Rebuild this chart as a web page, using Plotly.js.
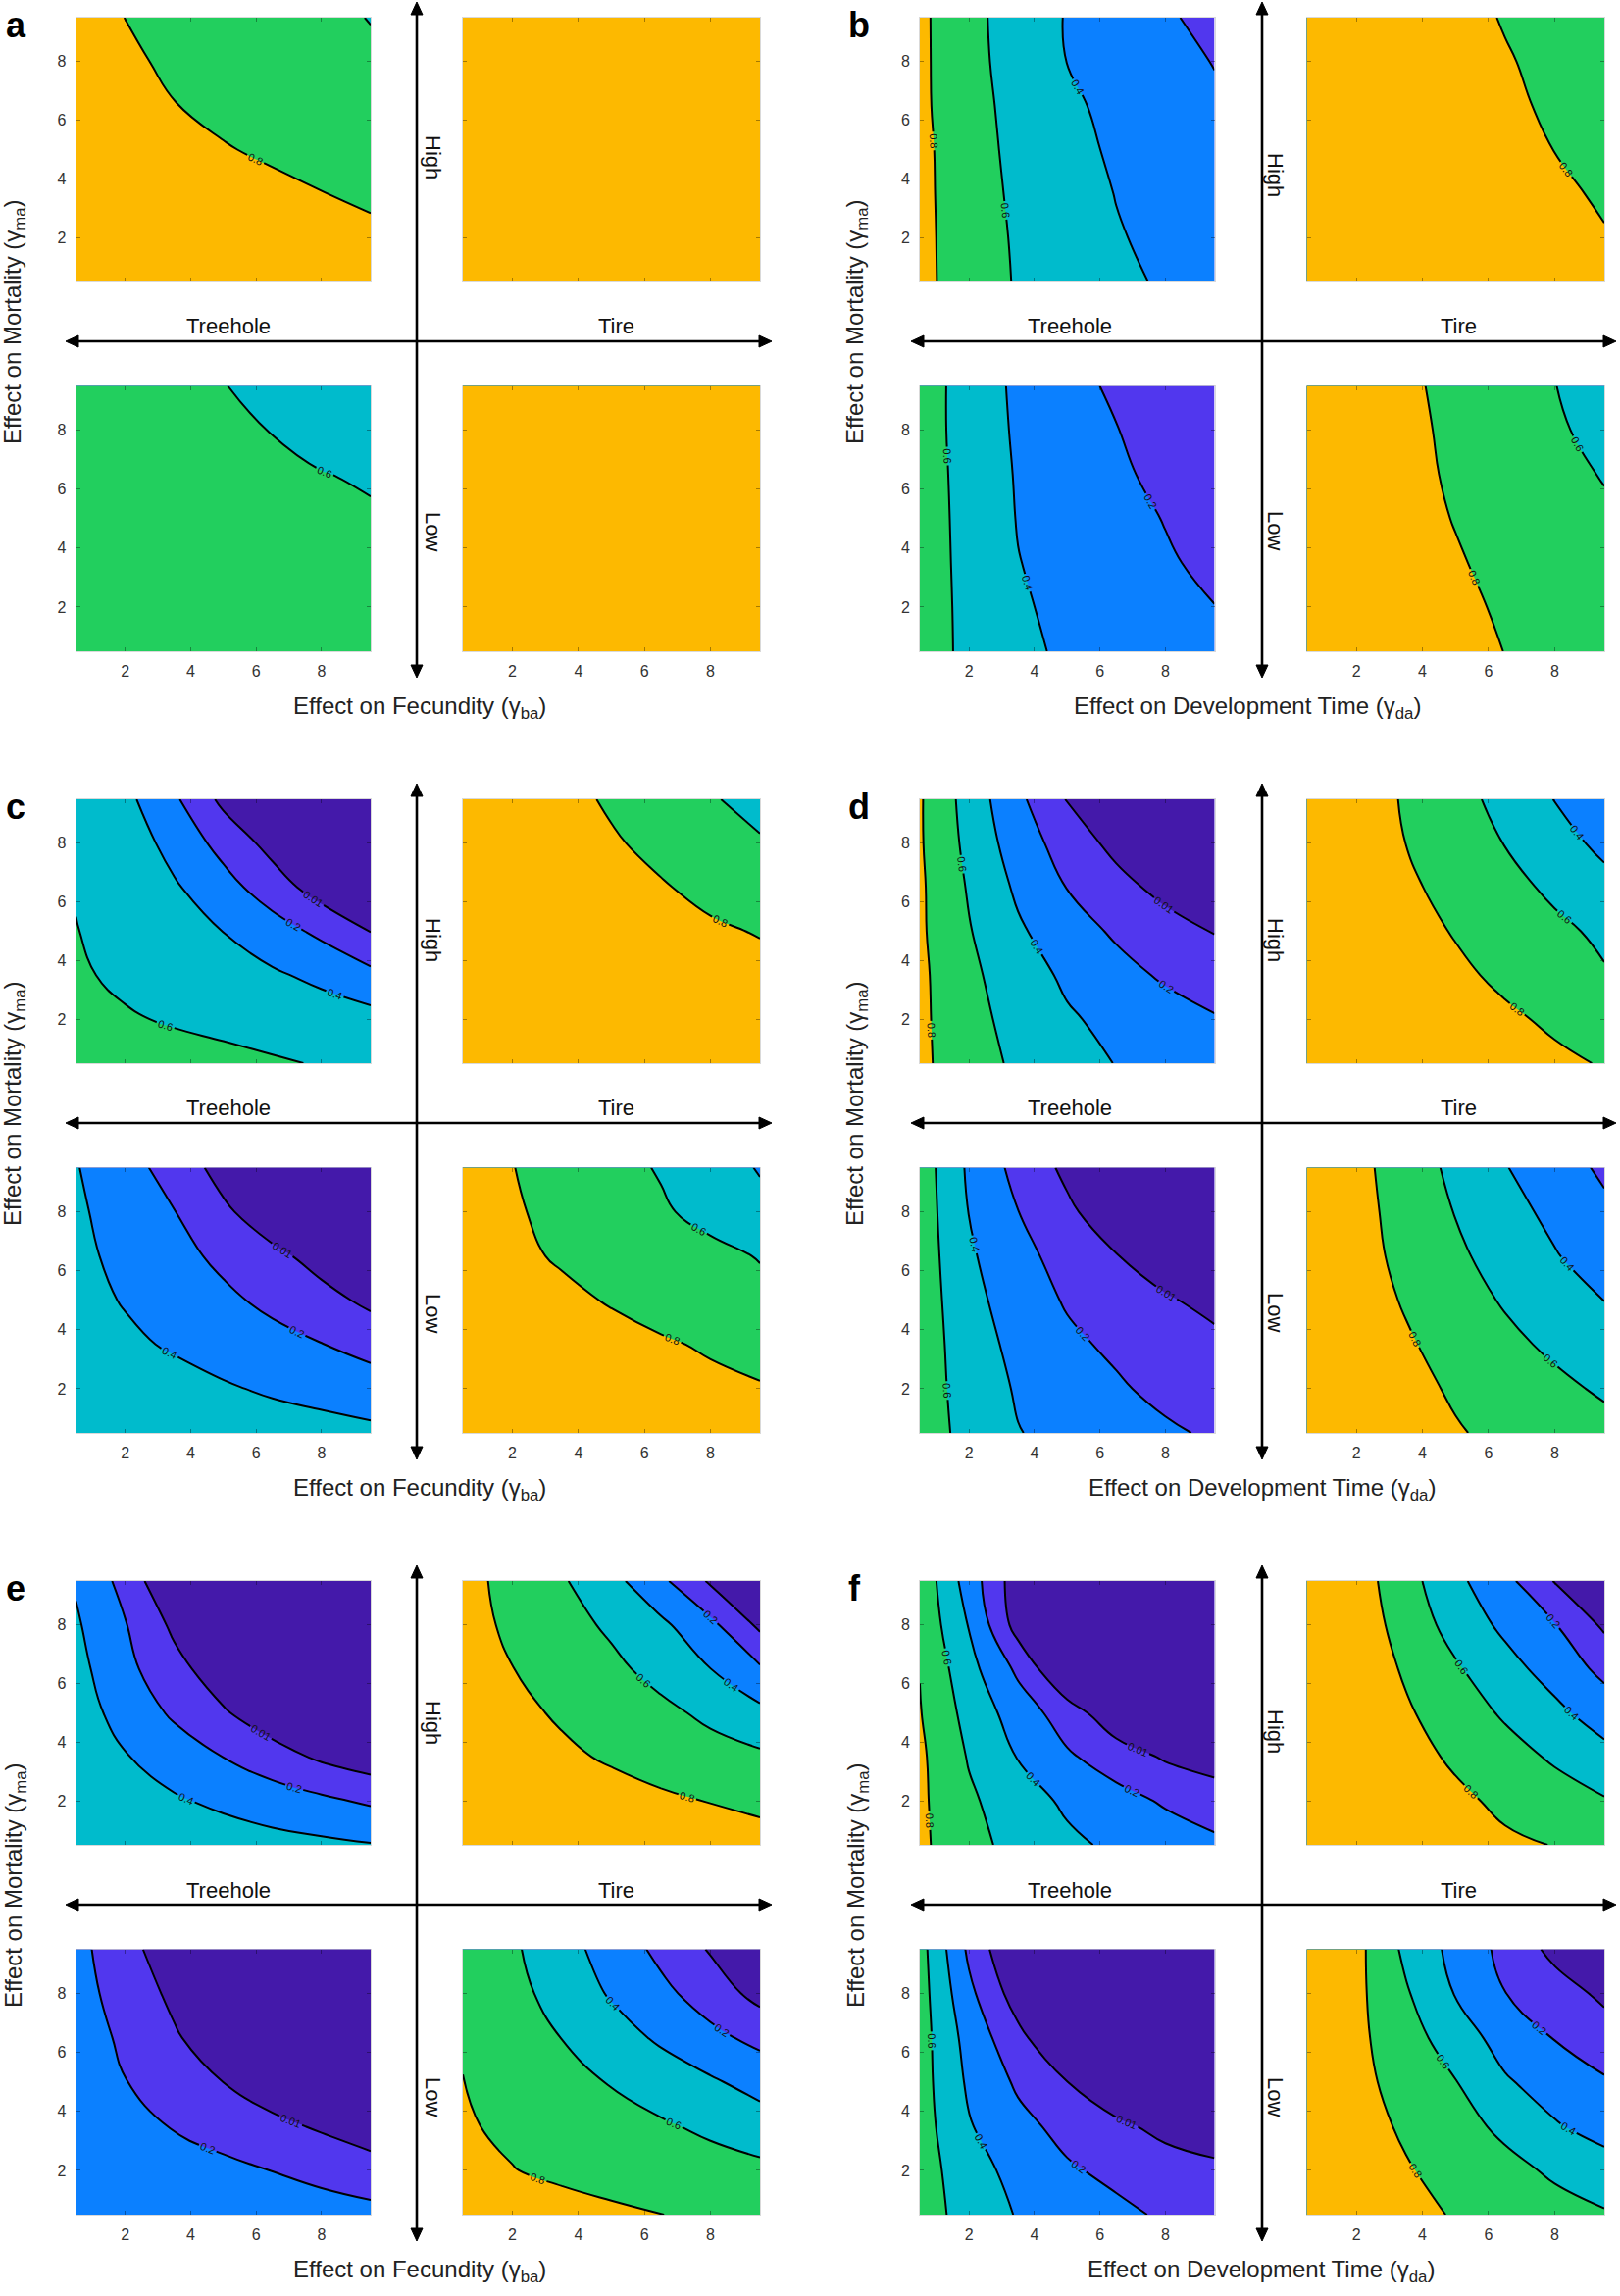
<!DOCTYPE html>
<html>
<head>
<meta charset="utf-8">
<script src="https://cdn.plot.ly/plotly-3.0.1.min.js"></script>
<style>
html,body{margin:0;padding:0;background:#fff;}
#chart{width:1652px;height:2341px;}
</style>
</head>
<body>
<div id="chart"></div>
<script>
// ---------------- DATA ----------------
// grid of gamma values (same for x = fecundity / development effect, y = mortality effect)
const gammaGrid = [0.5, 2, 3.5, 5, 6.5, 8, 9.5];
const tickValues = [2, 4, 6, 8];
const tickLabels = ['2', '4', '6', '8'];
const bandLevels = [0.2, 0.4, 0.6, 0.8];
const lowestLevel = 0.01;
const panelLetters = ['a', 'b', 'c', 'd', 'e', 'f'];
const habitatLabels = ['Treehole', 'Tire'];
const competitionLabels = ['High', 'Low'];
const xTitleFecundity = 'Effect on Fecundity (\u03b3<sub>ba</sub>)';
const xTitleDevelopment = 'Effect on Development Time (\u03b3<sub>da</sub>)';
const yTitleMortality = 'Effect on Mortality (\u03b3<sub>ma</sub>)';

// z values: rows follow gammaGrid upward (mortality 0.5 ... 9.5), columns follow gammaGrid rightward
const a_treehole_high = [
 [0.97,0.95,0.93,0.91,0.89,0.87,0.85],
 [0.95,0.93,0.91,0.89,0.87,0.85,0.825],
 [0.93,0.90,0.88,0.86,0.83,0.803,0.78],
 [0.90,0.87,0.84,0.808,0.78,0.75,0.72],
 [0.87,0.84,0.803,0.77,0.735,0.70,0.67],
 [0.866,0.82,0.78,0.741,0.703,0.664,0.626],
 [0.86,0.799,0.759,0.718,0.677,0.636,0.595]];
const a_tire_high = [
 [1.0,1.0,0.99,0.99,0.98,0.98,0.97],
 [1.0,0.99,0.99,0.98,0.98,0.97,0.96],
 [0.99,0.99,0.98,0.98,0.97,0.96,0.95],
 [0.99,0.98,0.98,0.97,0.96,0.95,0.94],
 [0.98,0.98,0.97,0.96,0.95,0.94,0.93],
 [0.98,0.97,0.96,0.95,0.94,0.93,0.92],
 [0.97,0.96,0.95,0.94,0.93,0.92,0.91]];
const a_treehole_low = [
 [0.795,0.785,0.77,0.75,0.73,0.71,0.69],
 [0.79,0.775,0.755,0.735,0.71,0.69,0.665],
 [0.78,0.76,0.74,0.715,0.69,0.665,0.64],
 [0.77,0.745,0.72,0.69,0.665,0.638,0.615],
 [0.76,0.73,0.70,0.67,0.64,0.604,0.585],
 [0.75,0.71,0.675,0.635,0.595,0.555,0.515],
 [0.74,0.695,0.65,0.604,0.56,0.515,0.48]];
const a_tire_low = [
 [1.0,1.0,1.0,0.99,0.99,0.99,0.98],
 [1.0,1.0,0.99,0.99,0.99,0.98,0.98],
 [1.0,0.99,0.99,0.99,0.98,0.98,0.97],
 [0.99,0.99,0.99,0.98,0.98,0.97,0.97],
 [0.99,0.99,0.98,0.98,0.97,0.97,0.96],
 [0.99,0.98,0.98,0.97,0.97,0.96,0.95],
 [0.98,0.98,0.97,0.97,0.96,0.95,0.94]];

const b_treehole_high = [
 [0.85,0.706,0.583,0.512,0.44,0.378,0.328],
 [0.85,0.70,0.575,0.494,0.413,0.358,0.308],
 [0.85,0.689,0.563,0.478,0.395,0.34,0.286],
 [0.85,0.679,0.55,0.454,0.374,0.314,0.254],
 [0.84,0.67,0.537,0.431,0.355,0.292,0.229],
 [0.84,0.66,0.52,0.398,0.331,0.262,0.193],
 [0.84,0.655,0.511,0.389,0.307,0.225,0.142]];
const b_tire_high = [
 [1.0,0.99,0.98,0.96,0.93,0.89,0.84],
 [1.0,0.99,0.97,0.94,0.9,0.86,0.81],
 [1.0,0.98,0.96,0.92,0.87,0.83,0.78],
 [0.99,0.97,0.95,0.9,0.85,0.798,0.75],
 [0.99,0.97,0.93,0.88,0.83,0.775,0.72],
 [0.98,0.96,0.92,0.86,0.812,0.76,0.71],
 [0.98,0.95,0.9,0.85,0.79,0.74,0.69]];
const b_treehole_low = [
 [0.68,0.562,0.443,0.37,0.324,0.278,0.232],
 [0.69,0.554,0.422,0.357,0.306,0.255,0.203],
 [0.69,0.548,0.405,0.341,0.281,0.22,0.16],
 [0.695,0.539,0.392,0.326,0.26,0.193,0.127],
 [0.696,0.53,0.384,0.307,0.231,0.154,0.078],
 [0.695,0.519,0.373,0.289,0.206,0.122,0.05],
 [0.70,0.514,0.363,0.265,0.167,0.10,0.04]];
const b_tire_low = [
 [0.96,0.94,0.894,0.846,0.798,0.75,0.702],
 [0.96,0.93,0.88,0.831,0.782,0.732,0.683],
 [0.96,0.918,0.866,0.813,0.761,0.708,0.656],
 [0.96,0.905,0.85,0.794,0.739,0.683,0.628],
 [0.97,0.905,0.842,0.779,0.716,0.653,0.59],
 [0.98,0.911,0.839,0.767,0.695,0.623,0.551],
 [0.98,0.905,0.83,0.754,0.679,0.603,0.528]];

const c_treehole_high = [
 [0.70,0.68,0.66,0.64,0.617,0.59,0.56],
 [0.65,0.615,0.585,0.56,0.53,0.50,0.47],
 [0.62,0.571,0.523,0.475,0.427,0.354,0.249],
 [0.605,0.536,0.468,0.398,0.283,0.157,0.005],
 [0.59,0.53,0.423,0.27,0.102,-0.08,-0.1],
 [0.57,0.52,0.329,0.138,-0.054,-0.1,-0.1],
 [0.55,0.452,0.23,-0.035,-0.1,-0.1,-0.1]];
const c_tire_high = [
 [1.0,1.0,1.0,0.99,0.97,0.95,0.92],
 [1.0,1.0,1.0,0.98,0.95,0.92,0.89],
 [1.0,1.0,0.99,0.96,0.92,0.885,0.85],
 [1.0,0.99,0.98,0.937,0.884,0.825,0.79],
 [0.99,0.97,0.934,0.874,0.814,0.754,0.694],
 [0.99,0.955,0.888,0.82,0.753,0.685,0.618],
 [0.99,0.935,0.856,0.776,0.697,0.617,0.537]];
const c_treehole_low = [
 [0.59,0.565,0.54,0.515,0.49,0.465,0.435],
 [0.57,0.52,0.47,0.42,0.375,0.34,0.31],
 [0.494,0.436,0.378,0.32,0.263,0.205,0.12],
 [0.463,0.388,0.313,0.238,0.156,0.065,-0.027],
 [0.445,0.351,0.258,0.159,0.053,-0.054,-0.1],
 [0.43,0.318,0.205,0.043,-0.1,-0.1,-0.1],
 [0.41,0.275,0.12,-0.058,-0.1,-0.1,-0.1]];
const c_tire_low = [
 [0.97,0.95,0.93,0.91,0.89,0.87,0.85],
 [0.95,0.93,0.9,0.88,0.855,0.83,0.81],
 [0.93,0.9,0.87,0.845,0.815,0.785,0.755],
 [0.9,0.87,0.83,0.79,0.75,0.70,0.65],
 [0.885,0.83,0.785,0.74,0.695,0.65,0.59],
 [0.878,0.819,0.754,0.689,0.624,0.542,0.449],
 [0.87,0.804,0.733,0.661,0.585,0.486,0.387]];

const d_treehole_high = [
 [0.84,0.688,0.564,0.478,0.394,0.319,0.244],
 [0.84,0.665,0.532,0.423,0.348,0.283,0.217],
 [0.84,0.643,0.492,0.366,0.266,0.173,0.091],
 [0.83,0.612,0.428,0.288,0.172,0.088,0.004],
 [0.83,0.582,0.366,0.195,0.073,-0.048,-0.1],
 [0.82,0.547,0.301,0.115,-0.043,-0.1,-0.1],
 [0.82,0.52,0.242,0.0,-0.1,-0.1,-0.1]];
const d_tire_high = [
 [1.0,0.99,0.96,0.915,0.87,0.83,0.79],
 [1.0,0.98,0.93,0.88,0.827,0.774,0.72],
 [0.99,0.965,0.9,0.833,0.767,0.69,0.615],
 [0.98,0.938,0.863,0.789,0.714,0.639,0.565],
 [0.97,0.916,0.83,0.744,0.657,0.564,0.457],
 [0.96,0.9,0.799,0.697,0.595,0.475,0.355],
 [0.95,0.896,0.782,0.667,0.54,0.395,0.25]];
const d_treehole_low = [
 [0.687,0.547,0.407,0.345,0.288,0.23,0.173],
 [0.694,0.524,0.379,0.302,0.225,0.149,0.074],
 [0.707,0.496,0.343,0.238,0.165,0.111,0.057],
 [0.713,0.463,0.301,0.182,0.106,0.031,-0.045],
 [0.714,0.429,0.257,0.129,0.017,-0.094,-0.1],
 [0.713,0.396,0.203,0.044,-0.1,-0.1,-0.1],
 [0.71,0.368,0.137,-0.03,-0.1,-0.1,-0.1]];
const d_tire_low = [
 [0.99,0.93,0.864,0.813,0.762,0.711,0.66],
 [1.0,0.916,0.848,0.78,0.711,0.643,0.574],
 [0.99,0.909,0.821,0.733,0.645,0.565,0.494],
 [0.98,0.885,0.784,0.682,0.582,0.491,0.398],
 [0.97,0.868,0.752,0.635,0.523,0.413,0.303],
 [0.97,0.863,0.728,0.593,0.47,0.351,0.238],
 [0.97,0.856,0.704,0.554,0.409,0.287,0.167]];

const e_treehole_high = [
 [0.59,0.565,0.535,0.5,0.465,0.44,0.41],
 [0.546,0.484,0.422,0.36,0.299,0.237,0.171],
 [0.518,0.411,0.305,0.198,0.088,-0.021,-0.1],
 [0.491,0.328,0.17,0.03,-0.106,-0.1,-0.1],
 [0.464,0.251,0.071,-0.098,-0.1,-0.1,-0.1],
 [0.424,0.211,-0.028,-0.1,-0.1,-0.1,-0.1],
 [0.38,0.135,-0.18,-0.1,-0.1,-0.1,-0.1]];
const e_tire_high = [
 [0.98,0.96,0.94,0.92,0.9,0.87,0.85],
 [0.96,0.93,0.9,0.87,0.83,0.795,0.77],
 [0.94,0.886,0.832,0.779,0.725,0.671,0.635],
 [0.91,0.844,0.778,0.711,0.645,0.56,0.45],
 [0.882,0.803,0.723,0.643,0.537,0.402,0.224],
 [0.864,0.768,0.672,0.569,0.441,0.248,-0.029],
 [0.861,0.741,0.621,0.463,0.242,-0.016,-0.1]];
const e_treehole_low = [
 [0.39,0.375,0.355,0.335,0.31,0.29,0.26],
 [0.36,0.33,0.29,0.245,0.197,0.14,0.08],
 [0.324,0.257,0.189,0.122,0.054,-0.013,-0.08],
 [0.303,0.205,0.107,0.009,-0.09,-0.1,-0.1],
 [0.3,0.165,0.031,-0.1,-0.1,-0.1,-0.1],
 [0.273,0.121,-0.03,-0.1,-0.1,-0.1,-0.1],
 [0.26,0.073,-0.1,-0.1,-0.1,-0.1,-0.1]];
const e_tire_low = [
 [0.9,0.88,0.86,0.83,0.802,0.77,0.74],
 [0.845,0.805,0.767,0.735,0.705,0.675,0.645],
 [0.817,0.769,0.72,0.672,0.623,0.563,0.492],
 [0.801,0.733,0.662,0.589,0.507,0.426,0.327],
 [0.795,0.71,0.597,0.484,0.37,0.25,0.147],
 [0.79,0.663,0.521,0.381,0.249,0.108,-0.05],
 [0.782,0.629,0.475,0.316,0.152,-0.006,-0.1]];

const f_treehole_high = [
 [0.84,0.662,0.537,0.44,0.364,0.303,0.242],
 [0.837,0.632,0.488,0.367,0.27,0.177,0.094],
 [0.836,0.585,0.392,0.227,0.104,-0.011,-0.065],
 [0.81,0.533,0.306,0.102,-0.12,-0.2,-0.2],
 [0.795,0.467,0.161,-0.2,-0.2,-0.2,-0.2],
 [0.76,0.39,-0.07,-0.2,-0.2,-0.2,-0.2],
 [0.75,0.305,-0.1,-0.2,-0.2,-0.2,-0.2]];
const f_tire_high = [
 [1.0,0.99,0.95,0.89,0.83,0.795,0.76],
 [1.0,0.99,0.915,0.839,0.762,0.686,0.615],
 [1.0,0.965,0.868,0.771,0.674,0.574,0.464],
 [0.99,0.948,0.824,0.70,0.575,0.448,0.304],
 [0.98,0.928,0.776,0.623,0.471,0.319,0.15],
 [0.97,0.917,0.718,0.527,0.357,0.21,-0.022],
 [0.97,0.895,0.676,0.447,0.256,0.0,-0.2]];
const f_treehole_low = [
 [0.687,0.528,0.386,0.315,0.244,0.174,0.107],
 [0.694,0.484,0.334,0.224,0.154,0.096,0.037],
 [0.69,0.415,0.255,0.141,0.049,-0.044,-0.06],
 [0.685,0.368,0.17,0.012,-0.145,-0.2,-0.2],
 [0.688,0.324,0.062,-0.19,-0.2,-0.2,-0.2],
 [0.686,0.246,-0.085,-0.2,-0.2,-0.2,-0.2],
 [0.679,0.162,-0.2,-0.2,-0.2,-0.2,-0.2]];
const f_tire_low = [
 [0.99,0.908,0.848,0.788,0.728,0.668,0.62],
 [0.98,0.894,0.815,0.736,0.657,0.571,0.48],
 [0.97,0.874,0.773,0.672,0.558,0.417,0.33],
 [0.96,0.853,0.73,0.607,0.421,0.315,0.22],
 [0.95,0.844,0.686,0.497,0.323,0.192,0.095],
 [0.95,0.848,0.621,0.39,0.203,0.095,-0.029],
 [0.95,0.858,0.556,0.34,0.145,-0.042,-0.2]];

// ---------------- STYLE / LAYOUT ----------------
const W = 1652, H = 2341;
const FONT = 'Liberation Sans, Arial, Helvetica, sans-serif';
const bandColors = ['#5137EE', '#0B80FF', '#00BBCC', '#22CF5E', '#FDB900'];
const darkColor = '#4419AA';

const panels = [
  {grids: [a_treehole_high, a_tire_high, a_treehole_low, a_tire_low], xTitle: xTitleFecundity},
  {grids: [b_treehole_high, b_tire_high, b_treehole_low, b_tire_low], xTitle: xTitleDevelopment},
  {grids: [c_treehole_high, c_tire_high, c_treehole_low, c_tire_low], xTitle: xTitleFecundity},
  {grids: [d_treehole_high, d_tire_high, d_treehole_low, d_tire_low], xTitle: xTitleDevelopment},
  {grids: [e_treehole_high, e_tire_high, e_treehole_low, e_tire_low], xTitle: xTitleFecundity},
  {grids: [f_treehole_high, f_tire_high, f_treehole_low, f_tire_low], xTitle: xTitleDevelopment}
];

const colGeom = [
  {left: [77.5, 378], right: [472, 775], vArrowX: 425, hArrow: [67, 787],
   treeX: 233, tireX: 628, hiloX: 442, yTitleX: 14, letterX: 4},
  {left: [938, 1238.5], right: [1332.5, 1636], vArrowX: 1287, hArrow: [929, 1648],
   treeX: 1091, tireX: 1487, hiloX: 1301, yTitleX: 873, letterX: 863}
];
const rowOffset = [0, 797, 1594];
const topRow = [18, 287], bottomRow = [393.5, 664];
const xTitleXs = [428, 1272, 428, 1287, 428, 1286];
const highYs = [160, 178, 161, 161, 162, 171];
const lowYs = [542, 541, 542, 541, 544, 544];

const px = v => v / W;
const py = v => 1 - v / H;

const colorscale = bandColors.map((c, i) => [i / (bandColors.length - 1), c]);

const data = [];
const layout = {
  width: W, height: H,
  margin: {l: 0, r: 0, t: 0, b: 0},
  paper_bgcolor: '#fff', plot_bgcolor: '#fff',
  showlegend: false, hovermode: false,
  font: {family: FONT, color: '#222'},
  annotations: [],
  shapes: []
};

function axisCfg(domain, showLabels, anchor) {
  return {
    domain: domain, anchor: anchor, range: [0.5, 9.5], autorange: false,
    tickmode: 'array', tickvals: tickValues, ticktext: tickLabels,
    showticklabels: showLabels, ticks: 'inside', ticklen: 4, tickwidth: 1,
    tickcolor: 'rgba(0,0,0,0.35)', showgrid: false, zeroline: false,
    showline: true, linecolor: 'rgba(0,0,0,0.15)', linewidth: 1, mirror: 'ticks',
    tickfont: {family: FONT, size: 16, color: '#333'}, ticklabelstandoff: 6,
    fixedrange: true
  };
}

const lineStyle = {color: '#000', width: 2, smoothing: 1.3};
const labelFont = {family: FONT, size: 11, color: '#111'};

let axisIndex = 0;
panels.forEach((panel, p) => {
  const col = p % 2, row = Math.floor(p / 2);
  const g = colGeom[col];
  const off = rowOffset[row];
  const boxes = [
    {x: g.left, y: topRow, xl: false, yl: true},
    {x: g.right, y: topRow, xl: false, yl: false},
    {x: g.left, y: bottomRow, xl: true, yl: true},
    {x: g.right, y: bottomRow, xl: true, yl: false}
  ];
  boxes.forEach((b, k) => {
    axisIndex += 1;
    const sfx = axisIndex === 1 ? '' : String(axisIndex);
    const xa = 'x' + sfx, ya = 'y' + sfx;
    layout['xaxis' + sfx] = axisCfg([px(b.x[0]), px(b.x[1])], b.xl, ya);
    layout['yaxis' + sfx] = axisCfg([py(b.y[1] + off), py(b.y[0] + off)], b.yl, xa);
    const z = panel.grids[k];
    data.push({
      type: 'contour', x: gammaGrid, y: gammaGrid, z: z, xaxis: xa, yaxis: ya,
      autocontour: false,
      contours: {start: bandLevels[0], end: bandLevels[bandLevels.length - 1],
                 size: bandLevels[1] - bandLevels[0], coloring: 'fill',
                 showlabels: true, labelfont: labelFont},
      colorscale: colorscale, showscale: false,
      line: lineStyle,
      hoverinfo: 'skip'
    });
    const hasLow = z.some(r => r.some(v => v < lowestLevel));
    if (hasLow) {
      data.push({
        type: 'contour', x: gammaGrid, y: gammaGrid, z: z, xaxis: xa, yaxis: ya,
        contours: {type: 'constraint', operation: '>', value: lowestLevel,
                   showlabels: true, labelfont: labelFont},
        fillcolor: darkColor, showscale: false,
        line: lineStyle,
        hoverinfo: 'skip'
      });
    }
  });

  const A = layout.annotations;
  const txt = (x, y, text, size, extra) => Object.assign({
    x: px(x), y: py(y), xref: 'paper', yref: 'paper', text: text, showarrow: false,
    xanchor: 'center', yanchor: 'middle', font: {family: FONT, size: size, color: '#111'}
  }, extra || {});
  // panel letter
  A.push(txt(g.letterX, off + 48, '<b>' + panelLetters[p] + '</b>', 36,
    {xanchor: 'left', yanchor: 'bottom', font: {family: FONT, size: 36, color: '#000'}}));
  // habitat labels
  A.push(txt(g.treeX, off + 333, habitatLabels[0], 22));
  A.push(txt(g.tireX, off + 333, habitatLabels[1], 22));
  // competition labels
  A.push(txt(g.hiloX, off + highYs[p], competitionLabels[0], 22, {textangle: 90}));
  A.push(txt(g.hiloX, off + lowYs[p], competitionLabels[1], 22, {textangle: 90}));
  // axis titles
  A.push(txt(xTitleXs[p], off + 721, panel.xTitle, 24, {font: {family: FONT, size: 24, color: '#222'}}));
  A.push(txt(g.yTitleX + 1, off + 328, yTitleMortality, 24, {textangle: -90, font: {family: FONT, size: 24, color: '#222'}}));

  // double-headed arrows as shapes (line + triangular heads)
  const S = layout.shapes;
  const hy = off + 348, hx0 = g.hArrow[0], hx1 = g.hArrow[1];
  const vx = g.vArrowX, vy0 = off + 2, vy1 = off + 691;
  const HL = 13, HW = 6;
  S.push({type: 'line', xref: 'paper', yref: 'paper', x0: px(hx0 + HL - 2), x1: px(hx1 - HL + 2),
          y0: py(hy), y1: py(hy), line: {color: '#000', width: 2.6}});
  S.push({type: 'line', xref: 'paper', yref: 'paper', x0: px(vx), x1: px(vx),
          y0: py(vy0 + HL - 2), y1: py(vy1 - HL + 2), line: {color: '#000', width: 2.6}});
  const tri = (pts) => ({type: 'path', xref: 'paper', yref: 'paper',
    path: 'M' + pts.map(q => px(q[0]) + ',' + py(q[1])).join('L') + 'Z',
    fillcolor: '#000', line: {color: '#000', width: 1}});
  S.push(tri([[hx0, hy], [hx0 + HL, hy - HW], [hx0 + HL, hy + HW]]));
  S.push(tri([[hx1, hy], [hx1 - HL, hy - HW], [hx1 - HL, hy + HW]]));
  S.push(tri([[vx, vy0], [vx - HW, vy0 + HL], [vx + HW, vy0 + HL]]));
  S.push(tri([[vx, vy1], [vx - HW, vy1 - HL], [vx + HW, vy1 - HL]]));
});

Plotly.newPlot('chart', data, layout, {staticPlot: true, displayModeBar: false});
</script>
</body>
</html>
